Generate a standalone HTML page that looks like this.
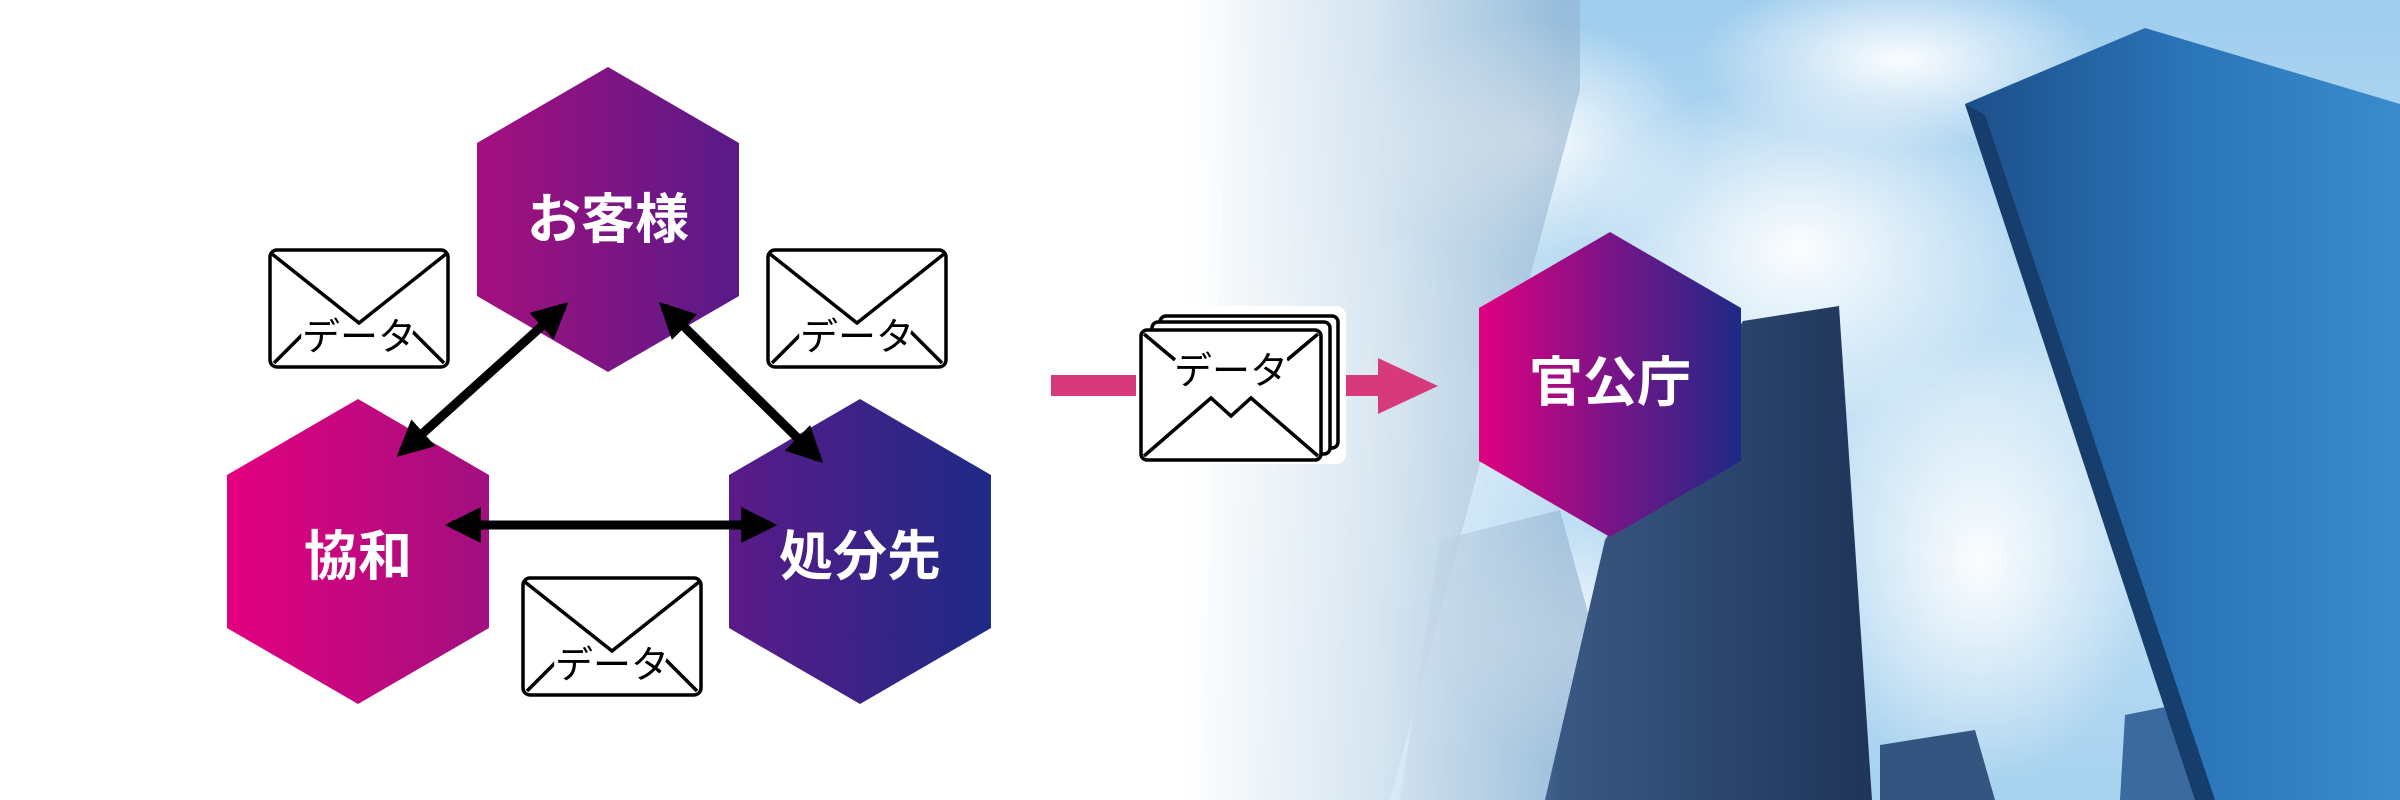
<!DOCTYPE html>
<html><head><meta charset="utf-8"><style>
html,body{margin:0;padding:0;width:2400px;height:800px;overflow:hidden;background:#fff}
svg{display:block}
text{font-family:"Liberation Sans","Noto Sans CJK JP",sans-serif}
</style></head><body>
<svg width="2400" height="800" viewBox="0 0 2400 800" xmlns="http://www.w3.org/2000/svg">
<defs>
<linearGradient id="g1" gradientUnits="userSpaceOnUse" x1="226" y1="0" x2="992" y2="0">
<stop offset="0" stop-color="#e4007f"/><stop offset="0.35" stop-color="#a0107f"/><stop offset="0.65" stop-color="#5c1a88"/><stop offset="1" stop-color="#1d2a86"/></linearGradient>
<linearGradient id="g2" gradientUnits="userSpaceOnUse" x1="1478" y1="0" x2="1742" y2="0">
<stop offset="0" stop-color="#e2007f"/><stop offset="0.5" stop-color="#7a1488"/><stop offset="1" stop-color="#1e2a86"/></linearGradient>
<linearGradient id="sky" x1="0" y1="0" x2="0" y2="1">
<stop offset="0" stop-color="#9fcdee"/><stop offset="0.5" stop-color="#c8e3f5"/><stop offset="1" stop-color="#a8d2ef"/></linearGradient>
<linearGradient id="fade" gradientUnits="userSpaceOnUse" x1="1180" y1="0" x2="1560" y2="0">
<stop offset="0" stop-color="#fff" stop-opacity="1"/><stop offset="0.5" stop-color="#fff" stop-opacity="0.6"/><stop offset="1" stop-color="#fff" stop-opacity="0"/></linearGradient>
<linearGradient id="bR" x1="0" y1="0" x2="1" y2="0">
<stop offset="0" stop-color="#1c4f8a"/><stop offset="0.5" stop-color="#2a74b8"/><stop offset="1" stop-color="#3a8ccc"/></linearGradient>
<linearGradient id="bM" x1="0" y1="0" x2="1" y2="0">
<stop offset="0" stop-color="#3a5a85"/><stop offset="1" stop-color="#1f3559"/></linearGradient>
<radialGradient id="cl"><stop offset="0" stop-color="#fff" stop-opacity="0.95"/><stop offset="1" stop-color="#fff" stop-opacity="0"/></radialGradient>
<marker id="ah" viewBox="0 0 10 10" refX="8" refY="5" markerWidth="4" markerHeight="4" orient="auto-start-reverse" markerUnits="strokeWidth">
<path d="M0,0 L10,5 L0,10 z" fill="#000"/></marker>
</defs>

<rect x="1150" y="0" width="1250" height="800" fill="url(#sky)"/>
<ellipse cx="1530" cy="140" rx="170" ry="120" fill="url(#cl)"/>
<ellipse cx="1800" cy="250" rx="220" ry="170" fill="url(#cl)"/>
<ellipse cx="1980" cy="560" rx="170" ry="220" fill="url(#cl)"/>
<ellipse cx="1900" cy="60" rx="200" ry="90" fill="url(#cl)"/>
<ellipse cx="1560" cy="640" rx="120" ry="120" fill="url(#cl)"/>
<polygon points="1230,0 1580,0 1580,90 1390,800 1200,800" fill="#8fb0cc" opacity="0.55"/>
<polygon points="1440,540 1560,510 1590,620 1560,800 1400,800" fill="#9ab9d4" opacity="0.7"/>
<polygon points="1743,321 1839,306 1872,800 1545,800 1605,540" fill="url(#bM)"/>
<polygon points="1880,745 1975,730 1995,800 1880,800" fill="#34557f"/>
<polygon points="2125,715 2200,700 2215,800 2120,800" fill="#3a6a9e"/>
<polygon points="1965,104 2145,28 2400,104 2400,800 2195,800" fill="url(#bR)"/>
<polygon points="1965,104 1985,115 2215,800 2195,800" fill="#173d6c"/>
<rect x="1150" y="0" width="420" height="800" fill="url(#fade)"/>

<!-- hexagons -->
<polygon points="608,67 739,143 739,296 608,372 477,296 477,143" fill="url(#g1)"/>
<polygon points="358,399 489,475 489,628 358,704 227,628 227,475" fill="url(#g1)"/>
<polygon points="860,399 991,475 991,628 860,704 729,628 729,475" fill="url(#g1)"/>
<polygon points="1610,232 1741,308 1741,461 1610,537 1479,461 1479,308" fill="url(#g2)"/>

<!-- arrows -->
<line x1="563" y1="307" x2="402" y2="452" stroke="#000" stroke-width="9" marker-start="url(#ah)" marker-end="url(#ah)"/>
<line x1="664" y1="307" x2="818" y2="458" stroke="#000" stroke-width="9" marker-start="url(#ah)" marker-end="url(#ah)"/>
<line x1="452" y1="525" x2="770" y2="525" stroke="#000" stroke-width="9" marker-start="url(#ah)" marker-end="url(#ah)"/>

<g fill="#fff" font-weight="bold" font-size="54" text-anchor="middle">
<text x="608" y="238">お客様</text>
<text x="358" y="575">協和</text>
<text x="860" y="575">処分先</text>
<text x="1610" y="401">官公庁</text>
</g>

<g stroke="#000" stroke-width="3.5" fill="#fff">
<rect x="270" y="250" width="178" height="117" rx="7"/>
<polyline points="272,254 359,323 446,254" fill="none"/>
<line x1="274" y1="363" x2="306" y2="331"/><line x1="444" y1="363" x2="412" y2="331"/>
<rect x="768" y="250" width="178" height="117" rx="7"/>
<polyline points="770,254 857,323 944,254" fill="none"/>
<line x1="772" y1="363" x2="804" y2="331"/><line x1="942" y1="363" x2="910" y2="331"/>
<rect x="523" y="578" width="178" height="117" rx="7"/>
<polyline points="525,582 612,651 699,582" fill="none"/>
<line x1="527" y1="691" x2="559" y2="659"/><line x1="697" y1="691" x2="665" y2="659"/>
</g>
<g font-size="38" text-anchor="middle" fill="#000" stroke="#fff" stroke-width="8" paint-order="stroke">
<text x="359" y="350">データ</text>
<text x="857" y="350">データ</text>
<text x="612" y="678">データ</text>
</g>

<rect x="1051" y="375" width="86" height="21" fill="#d63a7a"/>
<rect x="1340" y="375" width="40" height="21" fill="#d63a7a"/>
<polygon points="1378,358 1438,386 1378,414" fill="#d63a7a"/>

<rect x="1136" y="306" width="210" height="158" rx="10" fill="#fff"/>
<g stroke="#000" stroke-width="3.5" fill="#fff">
<rect x="1160" y="316" width="178" height="132" rx="6"/>
<rect x="1152" y="322" width="178" height="132" rx="6"/>
<rect x="1141" y="330" width="180" height="130" rx="6"/>
<polyline points="1144,456 1211,398 1231,416 1251,398 1318,456" fill="none"/>
<line x1="1144" y1="334" x2="1175" y2="360"/><line x1="1318" y1="334" x2="1287" y2="360"/>
</g>
<text x="1231" y="384" font-size="38" text-anchor="middle" fill="#000" stroke="#fff" stroke-width="6" paint-order="stroke">データ</text>
</svg>
</body></html>
